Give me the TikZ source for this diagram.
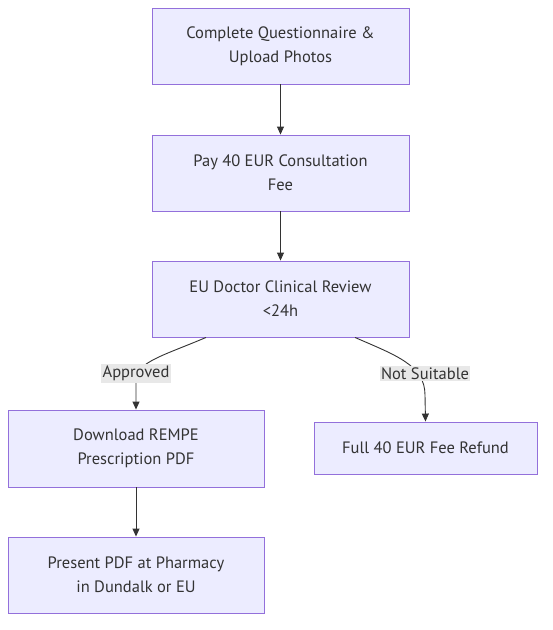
\documentclass[tikz,border=0pt]{standalone}
\usepackage{fontspec}
\setmainfont{PT Sans}
\usetikzlibrary{arrows.meta}
\definecolor{nodefill}{HTML}{ECECFF}
\definecolor{nodeline}{HTML}{9370DB}
\definecolor{edgecol}{HTML}{333333}
\definecolor{labelbg}{HTML}{E8E8E8}
\tikzset{
  box/.style={draw=nodeline, fill=nodefill, line width=0.9pt, align=center,
    text=edgecol, font=\fontsize{16.5}{24}\selectfont, inner sep=0pt},
  conn/.style={draw=edgecol, line width=0.9pt, -{Triangle[length=8pt,width=7pt]}},
  elabel/.style={fill=labelbg, text=edgecol, font=\fontsize{16.5}{18}\selectfont, inner sep=1.5pt}
}
\begin{document}
\begin{tikzpicture}[x=1pt,y=-1pt]
\useasboundingbox (0,0) rectangle (553,630);
\node[box, minimum width=257pt, minimum height=76pt] (A) at (280.5,46) {Complete Questionnaire \&\\Upload Photos};
\node[box, minimum width=257pt, minimum height=76pt] (B) at (280.5,173) {Pay 40 EUR Consultation\\Fee};
\node[box, minimum width=257pt, minimum height=76pt] (C) at (280.5,299) {EU Doctor Clinical Review\\<24h};
\node[box, minimum width=256pt, minimum height=77pt] (D) at (136,448.5) {Download REMPE\\Prescription PDF};
\node[box, minimum width=223pt, minimum height=52pt] (E) at (425.5,448) {Full 40 EUR Fee Refund};
\node[box, minimum width=256pt, minimum height=76pt] (F) at (136,575) {Present PDF at Pharmacy\\in Dundalk or EU};
\draw[conn] (A) -- (B);
\draw[conn] (B) -- (C);
\draw[conn] ([xshift=-74.5pt]C.south) .. controls (165,355) and (136,362) .. (136,380) -- (D.north);
\draw[conn] ([xshift=74.5pt]C.south) .. controls (395,355) and (425,365) .. (425,395) -- (E.north);
\node[elabel] (L1) at (136,373.5) {Approved};
\node[elabel] (L2) at (425,373.5) {Not Suitable};
\draw[conn] (D) -- (F);
\end{tikzpicture}
\end{document}
